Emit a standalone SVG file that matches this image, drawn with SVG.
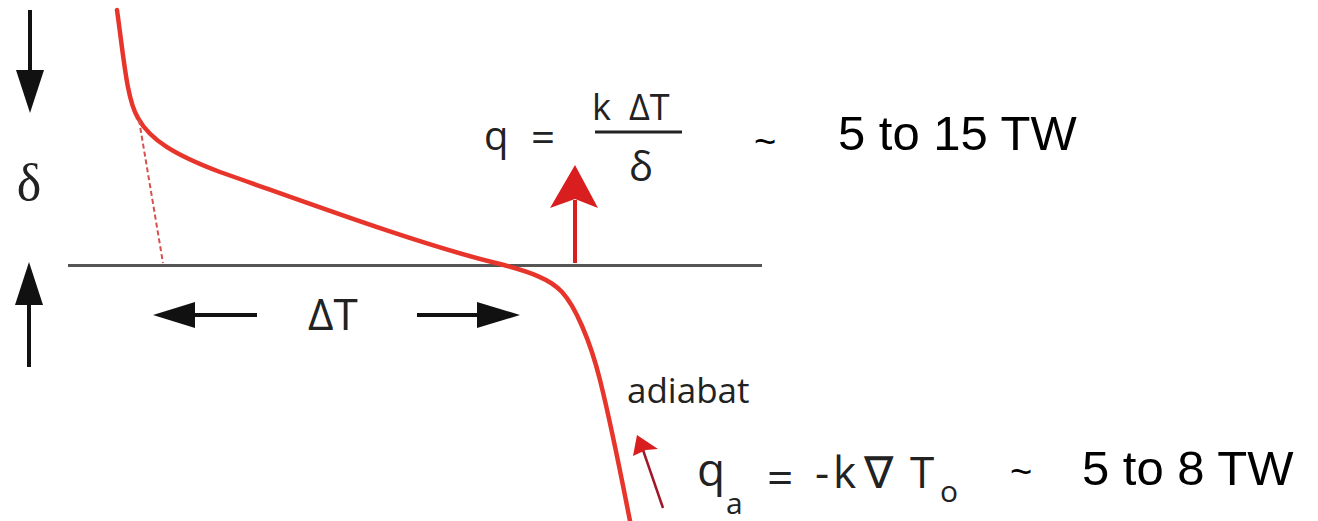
<svg xmlns="http://www.w3.org/2000/svg" width="1318" height="521" viewBox="0 0 1318 521">
<defs>
<style>
.blk{stroke:#111;stroke-width:4;fill:none}
.head{fill:#111}
.curve{stroke:#e8352b;stroke-width:4.5;fill:none;stroke-linecap:round}
.sans{font-family:"Open Sans","Liberation Sans",sans-serif;fill:#222}
.arial{font-family:"Liberation Sans",Arial,sans-serif;fill:#000}
</style>
</defs>
<rect width="1318" height="521" fill="#fff"/>
<g id="delta-left">
<line class="blk" x1="30" y1="10" x2="30" y2="75"/>
<polygon class="head" points="16,70 44,70 30,113"/>
<text x="29" y="200" font-family="Liberation Serif,serif" font-size="52" text-anchor="middle" fill="#222">δ</text>
<line class="blk" x1="29" y1="300" x2="29" y2="367"/>
<polygon class="head" points="15,305 43,305 29,262"/>
</g>
<g id="surface">
<line x1="68" y1="265.5" x2="762" y2="265.5" stroke="#555" stroke-width="3"/>
</g>
<g id="geotherm">
<path class="curve" d="M117,10 C124,60 127,100 138,118 C150,140 175,155 220,172 C300,200 420,245 500,264 C530,272 550,279 562,292 C575,306 590,340 600,380 C610,420 622,480 630,521"/>
<line x1="139" y1="120" x2="163" y2="263" stroke="#d8504a" stroke-width="2" stroke-dasharray="5,3"/>
</g>
<g id="deltaT">
<line class="blk" x1="190" y1="315" x2="257" y2="315"/>
<polygon class="head" points="153,315 195,302 195,328"/>
<text x="308" y="330" class="sans" font-size="44">ΔT</text>
<line class="blk" x1="417" y1="315" x2="482" y2="315"/>
<polygon class="head" points="520,315 477,302 477,328"/>
</g>
<g id="surface-flux">
<line x1="575" y1="263" x2="575" y2="200" stroke="#d81e1e" stroke-width="4"/>
<polygon points="575,165 598,208 575,199 550,208" fill="#d81e1e"/>
<text x="484" y="150" class="sans" font-size="40">q</text>
<text x="531" y="152" class="sans" font-size="42">=</text>
<text x="592" y="120" class="sans" font-size="36">k</text>
<text x="629" y="120" class="sans" font-size="36">ΔT</text>
<line x1="595" y1="132" x2="682" y2="132" stroke="#222" stroke-width="3"/>
<text x="641" y="181" class="sans" font-size="40" text-anchor="middle">δ</text>
<text x="754" y="155" class="arial" font-size="38">~</text>
<text x="838" y="150" class="arial" font-size="49">5 to 15 TW</text>
</g>
<g id="adiabat">
<text x="627" y="403" class="sans" font-size="35">adiabat</text>
<line x1="663" y1="508" x2="643" y2="450" stroke="#a01828" stroke-width="2.5"/>
<polygon points="637,435 658,449 646,450 633,456" fill="#d81e1e"/>
<text x="697" y="486" class="sans" font-size="46">q</text>
<text x="726" y="514" class="sans" font-size="30">a</text>
<text x="767" y="494" class="sans" font-size="46">=</text>
<text x="815" y="488" class="sans" font-size="44">-</text>
<text x="833" y="488" class="sans" font-size="44">k</text>
<text x="864" y="488" class="sans" font-size="44">∇</text>
<text x="910" y="488" class="sans" font-size="44">T</text>
<text x="940" y="502" class="sans" font-size="30">o</text>
<text x="1010" y="485" class="arial" font-size="38">~</text>
<text x="1082" y="485" class="arial" font-size="49">5 to 8 TW</text>
</g>
</svg>
